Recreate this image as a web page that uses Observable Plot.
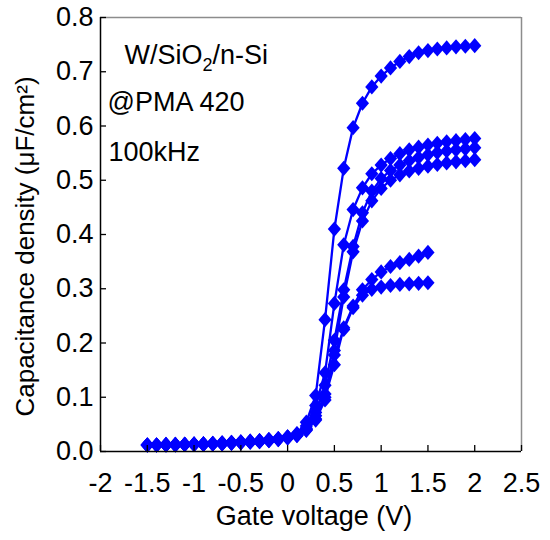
<!DOCTYPE html>
<html>
<head>
<meta charset="utf-8">
<script src="https://cdn.jsdelivr.net/npm/d3@7"></script>
<script src="https://cdn.jsdelivr.net/npm/@observablehq/plot@0.6"></script>
<style>
  html, body { margin: 0; padding: 0; background: #fff; }
  #chart svg { display: block; }
</style>
</head>
<body>
<div id="chart"></div>
<script>
// Gate voltage grids (V)
const voltLong = [-1.5,-1.4,-1.3,-1.2,-1.1,-1.0,-0.9,-0.8,-0.7,-0.6,-0.5,-0.4,-0.3,-0.2,-0.1,0.0,0.1,0.2,0.3,0.4,0.5,0.6,0.7,0.8,0.9,1.0,1.1,1.2,1.3,1.4,1.5,1.6,1.7,1.8,1.9,2.0];
const voltShort = [-1.5,-1.4,-1.3,-1.2,-1.1,-1.0,-0.9,-0.8,-0.7,-0.6,-0.5,-0.4,-0.3,-0.2,-0.1,0.0,0.1,0.2,0.3,0.4,0.5,0.6,0.7,0.8,0.9,1.0,1.1,1.2,1.3,1.4,1.5];

// Capacitance density (uF/cm^2)
const capA = [0.012,0.012,0.013,0.013,0.013,0.014,0.014,0.015,0.016,0.017,0.018,0.019,0.020,0.022,0.024,0.027,0.033,0.054,0.103,0.243,0.410,0.522,0.597,0.642,0.672,0.692,0.707,0.719,0.728,0.735,0.739,0.742,0.744,0.746,0.747,0.748];
const capB = [0.012,0.012,0.013,0.013,0.013,0.014,0.014,0.015,0.016,0.017,0.018,0.019,0.020,0.022,0.024,0.027,0.032,0.047,0.085,0.145,0.273,0.381,0.446,0.486,0.512,0.528,0.540,0.549,0.556,0.561,0.565,0.568,0.571,0.573,0.575,0.577];
const capC = [0.012,0.012,0.012,0.013,0.013,0.013,0.014,0.014,0.015,0.016,0.017,0.018,0.019,0.021,0.023,0.026,0.031,0.043,0.072,0.122,0.205,0.298,0.378,0.440,0.480,0.503,0.518,0.528,0.536,0.542,0.547,0.551,0.554,0.556,0.558,0.560];
const capD = [0.012,0.012,0.012,0.012,0.013,0.013,0.014,0.014,0.015,0.016,0.017,0.018,0.019,0.021,0.023,0.026,0.030,0.041,0.066,0.106,0.186,0.285,0.368,0.425,0.462,0.485,0.500,0.510,0.517,0.522,0.526,0.529,0.532,0.534,0.536,0.538];
const capE = [0.012,0.012,0.012,0.012,0.013,0.013,0.013,0.014,0.014,0.015,0.016,0.017,0.018,0.020,0.022,0.025,0.030,0.040,0.060,0.100,0.160,0.228,0.268,0.298,0.317,0.331,0.341,0.348,0.354,0.360,0.367];
const capF = [0.012,0.012,0.012,0.012,0.013,0.013,0.013,0.014,0.014,0.015,0.016,0.017,0.018,0.020,0.022,0.025,0.029,0.039,0.058,0.095,0.178,0.225,0.265,0.288,0.299,0.303,0.306,0.308,0.309,0.310,0.311];

const seriesNames = ["A","B","C","D","E","F"];
const seriesCaps = [capA, capB, capC, capD, capE, capF];
const seriesVolts = [voltLong, voltLong, voltLong, voltLong, voltShort, voltShort];

const xTicks = [-2,-1.5,-1,-0.5,0,0.5,1,1.5,2,2.5];
const yTicks = [0,0.1,0.2,0.3,0.4,0.5,0.6,0.7,0.8];

const xTitle = "Gate voltage (V)";
const yTitle = "Capacitance density (\u03bcF/cm\u00b2)";
const notes = ["W/SiO2/n-Si", "@PMA 420", "100kHz"];

const data = [];
seriesNames.forEach((name, i) => {
  seriesVolts[i].forEach((v, j) => data.push({series: name, v, c: seriesCaps[i][j]}));
});

const blue = "#0000ff";
const font = "'Liberation Sans', Arial, sans-serif";

// Slightly tall diamond marker
const tallDiamond = {
  draw(context, size) {
    const r = Math.sqrt(size / Math.PI);
    context.moveTo(0, -r * 1.15);
    context.lineTo(r, 0);
    context.lineTo(0, r * 1.15);
    context.lineTo(-r, 0);
    context.closePath();
  }
};

const chart = Plot.plot({
  width: 550,
  height: 540,
  marginLeft: 100,
  marginRight: 29,
  marginTop: 17,
  marginBottom: 89,
  style: {fontFamily: font, background: "#fff", color: "#000"},
  x: {domain: [-2, 2.5]},
  y: {domain: [0, 0.8]},
  marks: [
    Plot.ruleY([0.8], {stroke: "#8c8c8c", strokeWidth: 1.5}),
    Plot.ruleX([2.5], {stroke: "#8c8c8c", strokeWidth: 1.5}),
    Plot.line(data, {x: "v", y: "c", z: "series", stroke: blue, strokeWidth: 2.3}),
    Plot.dot(data, {x: "v", y: "c", symbol: tallDiamond, r: 6.6, fill: blue}),
    Plot.ruleX([-2], {stroke: "#000", strokeWidth: 1.5}),
    Plot.ruleY([0], {stroke: "#000", strokeWidth: 1.5}),
    Plot.axisX({ticks: xTicks, tickSize: -6, text: null, label: null, stroke: "#000", strokeWidth: 1.3}),
    Plot.axisX({ticks: xTicks, tickSize: 0, tickPadding: 21, tickFormat: d => String(d), label: null, fontSize: 27, fill: "#000"}),
    Plot.axisY({ticks: yTicks, tickSize: -6, text: null, label: null, stroke: "#000", strokeWidth: 1.3}),
    Plot.axisY({ticks: yTicks, tickSize: 0, tickPadding: 7, tickFormat: d3.format(".1f"), label: null, fontSize: 27, fill: "#000"}),
    Plot.text([xTitle], {frameAnchor: "bottom", lineAnchor: "bottom", dx: 3, dy: 73, fontSize: 27, fill: "#000"}),
    Plot.text([yTitle], {frameAnchor: "left", textAnchor: "middle", lineAnchor: "bottom", rotate: -90, dx: -67, dy: 12, fontSize: 26, fill: "#000"}),
    Plot.text([notes[0]], {frameAnchor: "top-left", textAnchor: "start", lineAnchor: "bottom", dx: 24, dy: 46, fontSize: 27, fill: "#000"}),
    Plot.text([notes[1]], {frameAnchor: "top-left", textAnchor: "start", lineAnchor: "bottom", dx: 7, dy: 93, fontSize: 27, fill: "#000"}),
    Plot.text([notes[2]], {frameAnchor: "top-left", textAnchor: "start", lineAnchor: "bottom", dx: 8, dy: 143, fontSize: 27, fill: "#000"})
  ]
});

// Subscript the "2" in SiO2
d3.select(chart).selectAll("text").each(function() {
  const t = d3.select(this);
  if (t.text() === notes[0]) {
    t.text(null);
    t.append("tspan").text("W/SiO");
    t.append("tspan").attr("dy", 7).attr("font-size", 18).text("2");
    t.append("tspan").attr("dy", -7).text("/n-Si");
  }
});

document.getElementById("chart").appendChild(chart);
</script>
</body>
</html>
